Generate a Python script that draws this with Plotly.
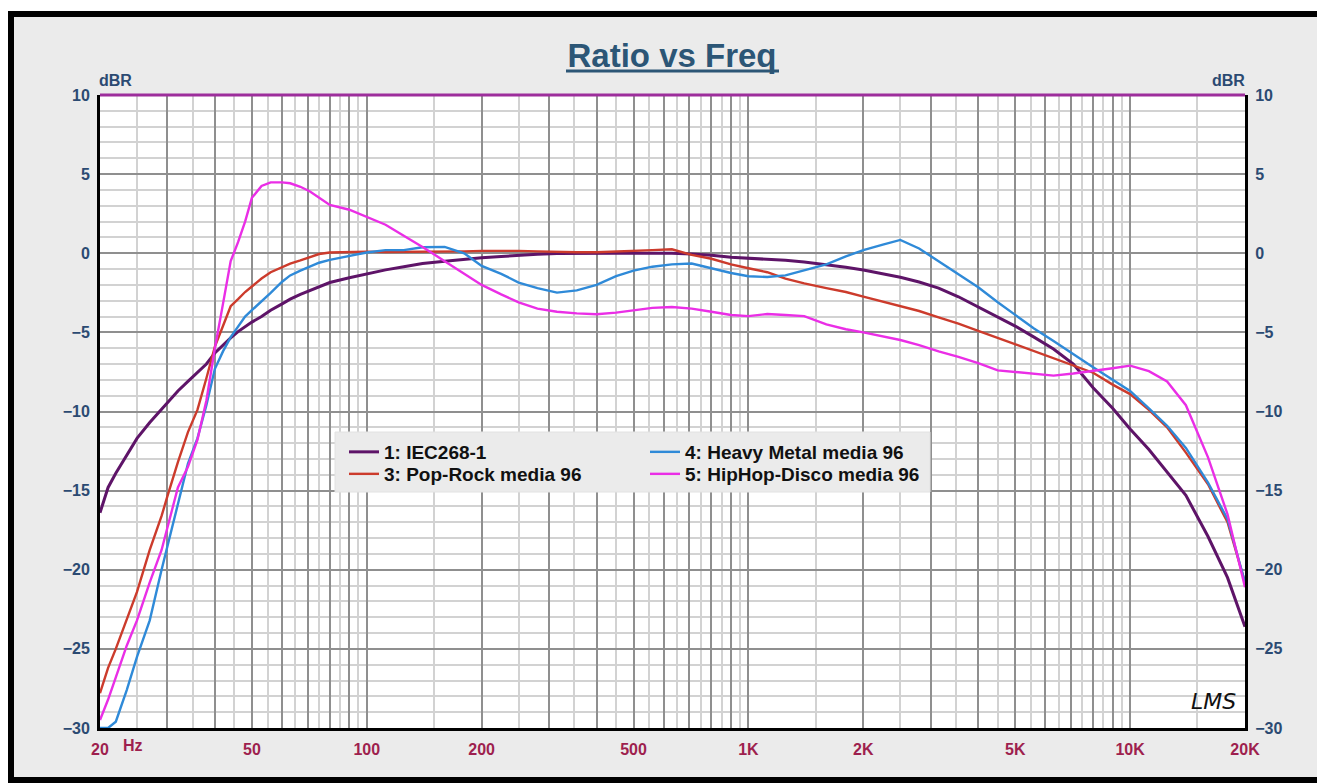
import math
import plotly.graph_objects as go

# ---------------- data ----------------
freq = [20, 21, 22, 23.5, 25, 27, 29, 30, 32, 34, 36, 38, 40, 42, 44, 46, 48, 50, 53, 56,
        60, 63, 67, 71, 75, 80, 90, 100, 112, 125, 140, 160, 180, 200, 225, 250, 280, 315,
        355, 400, 450, 500, 560, 630, 710, 800, 900, 1000, 1120, 1250, 1400, 1600, 1800,
        2000, 2250, 2500, 2800, 3150, 3550, 4000, 4500, 5000, 5600, 6300, 7100, 8000, 9000,
        10000, 11200, 12500, 14000, 16000, 18000, 20000]

iec268 = [-16.4, -14.8, -13.9, -12.8, -11.7, -10.7, -9.85, -9.4, -8.7, -8.1, -7.55, -7.0,
          -6.3, -5.8, -5.35, -4.95, -4.65, -4.35, -4.0, -3.6, -3.2, -2.9, -2.6, -2.35, -2.1,
          -1.85, -1.55, -1.3, -1.05, -0.85, -0.65, -0.5, -0.38, -0.28, -0.2, -0.12, -0.06,
          -0.02, 0.0, 0.0, 0.0, 0.0, 0.0, 0.0, -0.05, -0.12, -0.25, -0.3, -0.38, -0.45,
          -0.55, -0.7, -0.88, -1.06, -1.3, -1.52, -1.82, -2.2, -2.75, -3.38, -4.0, -4.6,
          -5.3, -6.05, -7.0, -8.5, -9.8, -11.1, -12.4, -13.8, -15.3, -17.9, -20.5, -23.6]

pop_rock = [-27.8, -26.2, -25.0, -23.2, -21.4, -18.75, -16.6, -15.4, -13.2, -11.3, -9.9,
            -7.9, -5.9, -4.6, -3.35, -2.9, -2.45, -2.1, -1.6, -1.2, -0.9, -0.65, -0.45,
            -0.25, -0.05, 0.05, 0.1, 0.1, 0.08, 0.08, 0.1, 0.1, 0.12, 0.15, 0.16, 0.15, 0.12,
            0.08, 0.06, 0.06, 0.1, 0.12, 0.2, 0.25, -0.1, -0.35, -0.7, -0.95, -1.2, -1.6,
            -1.9, -2.2, -2.45, -2.74, -3.05, -3.35, -3.65, -4.05, -4.45, -4.9, -5.35, -5.75,
            -6.2, -6.6, -7.06, -7.55, -8.3, -8.9, -9.9, -11.0, -12.6, -14.6, -17.0, -20.8]

heavy_metal = [-30.0, -30.0, -29.6, -27.6, -25.5, -23.2, -20.0, -18.6, -15.8, -13.3, -11.7,
               -9.6, -7.3, -6.2, -5.3, -4.64, -4.0, -3.6, -3.06, -2.5, -1.8, -1.4, -1.1,
               -0.85, -0.6, -0.42, -0.15, 0.05, 0.2, 0.2, 0.38, 0.4, 0.0, -0.8, -1.3, -1.85,
               -2.2, -2.49, -2.35, -2.0, -1.44, -1.1, -0.85, -0.7, -0.65, -0.95, -1.25,
               -1.45, -1.5, -1.4, -1.1, -0.7, -0.2, 0.2, 0.55, 0.84, 0.3, -0.5, -1.3, -2.15,
               -3.1, -3.9, -4.75, -5.55, -6.4, -7.2, -8.0, -8.7, -9.8, -10.9, -12.3, -14.5,
               -16.8, -20.8]

hiphop_disco = [-29.5, -28.2, -26.8, -24.8, -23.2, -20.8, -18.75, -17.4, -14.8, -13.5, -11.8,
                -9.3, -6.0, -3.2, -0.5, 0.7, 2.0, 3.5, 4.25, 4.48, 4.48, 4.42, 4.2, 3.9, 3.5,
                3.05, 2.75, 2.3, 1.8, 1.1, 0.4, -0.5, -1.3, -2.0, -2.6, -3.1, -3.5, -3.7,
                -3.8, -3.85, -3.75, -3.6, -3.45, -3.4, -3.5, -3.7, -3.9, -3.97, -3.84, -3.9,
                -3.97, -4.5, -4.8, -5.0, -5.25, -5.48, -5.8, -6.2, -6.55, -6.95, -7.4, -7.5,
                -7.65, -7.73, -7.6, -7.45, -7.27, -7.1, -7.45, -8.1, -9.6, -12.9, -16.5, -21.1]

series_names = ["1: IEC268-1", "3: Pop-Rock media 96", "4: Heavy Metal media 96",
                "5: HipHop-Disco media 96"]
series_values = [iec268, pop_rock, heavy_metal, hiphop_disco]
series_colors = ["#5e1468", "#cc3b2c", "#2f8ad8", "#ea2ee6"]
series_widths = [3.0, 2.4, 2.4, 2.4]
series_legend = ["legend", "legend2", "legend", "legend2"]   # legend row of each series

x_major = [20, 30, 40, 50, 60, 70, 80, 90, 100, 200, 300, 400, 500, 600, 700, 800, 900,
           1000, 2000, 3000, 4000, 5000, 6000, 7000, 8000, 9000, 10000, 20000]
x_labels = {20: "20", 50: "50", 100: "100", 200: "200", 500: "500", 1000: "1K",
            2000: "2K", 5000: "5K", 10000: "10K", 20000: "20K"}
x_minor = [25, 35, 45, 55, 65, 75, 85, 95, 150, 250, 350, 450, 550, 650, 750, 850, 950,
           1500, 2500, 3500, 4500, 5500, 6500, 7500, 8500, 9500, 15000]
y_ticks = [-30, -25, -20, -15, -10, -5, 0, 5, 10]

# ---------------- layout geometry ----------------
# the page body has an 8px margin, so the figure starts at page (8, 8)
OFF = 8
W, H = 1325 - OFF, 783 - OFF
ML, MR, MT, MB = 100 - OFF, 80, 95 - OFF, 55
PW, PH = W - ML - MR, H - MT - MB


def px(x):  # page x -> paper
    return (x - OFF - ML) / PW


def py(y):  # page y -> paper
    return (H - MB - (y - OFF)) / PH


FONT = "Arial, 'Liberation Sans', sans-serif"
BLUE_TXT = "#2b4a72"
RED_TXT = "#9e1f4e"

fig = go.Figure()
for name, vals, col, w, lg in zip(series_names, series_values, series_colors,
                                  series_widths, series_legend):
    fig.add_trace(go.Scatter(x=freq, y=vals, mode="lines", name=name,
                             line=dict(color=col, width=w), legend=lg,
                             hoverinfo="skip"))

tickfont_y = dict(size=16, color=BLUE_TXT, family=FONT, weight="bold")
tickfont_x = dict(size=16, color=RED_TXT, family=FONT, weight="bold")
legend_font = dict(size=19, color="#111111", family=FONT, weight="bold")

fig.update_layout(
    width=W, height=H,
    margin=dict(l=ML, r=MR, t=MT, b=MB, pad=0),
    paper_bgcolor="white",
    plot_bgcolor="white",
    font=dict(family=FONT),
    title=dict(text="<b>Ratio vs Freq</b>", x=px(672), xanchor="center", xref="paper",
               y=1 - (55 - OFF) / H, yanchor="middle", yref="container",
               font=dict(size=33, color="#2c5676", family=FONT)),
    showlegend=True,
    legend=dict(orientation="h", x=px(344), y=py(452), xanchor="left", yanchor="middle",
                bgcolor="rgba(0,0,0,0)", borderwidth=0, entrywidth=256,
                font=legend_font, traceorder="normal"),
    legend2=dict(orientation="h", x=px(344), y=py(474), xanchor="left", yanchor="middle",
                 bgcolor="rgba(0,0,0,0)", borderwidth=0, entrywidth=256,
                 font=legend_font, traceorder="normal"),
    xaxis=dict(type="log", range=[math.log10(20), math.log10(20000)],
               tickmode="array", tickvals=x_major,
               ticktext=[x_labels.get(v, "") for v in x_major],
               showgrid=True, gridcolor="#8f8f8f", gridwidth=1.5,
               minor=dict(tickvals=x_minor, showgrid=True, gridcolor="#d2d2d2",
                          gridwidth=1.5),
               showline=True, linecolor="black", linewidth=3, mirror=False,
               ticks="", ticklabelstandoff=5, tickfont=tickfont_x, zeroline=False),
    yaxis=dict(range=[-30, 10], tickmode="array", tickvals=y_ticks,
               showgrid=True, gridcolor="#8f8f8f", gridwidth=1.5,
               minor=dict(dtick=1, showgrid=True, gridcolor="#d2d2d2", gridwidth=1.5),
               showline=True, linecolor="black", linewidth=3,
               ticks="", ticklabelstandoff=4, tickfont=tickfont_y, zeroline=False),
    yaxis2=dict(range=[-30, 10], overlaying="y", side="right", anchor="x",
                tickmode="array", tickvals=y_ticks, showgrid=False,
                showline=True, linecolor="black", linewidth=3, ticks="",
                ticklabelstandoff=4, tickfont=tickfont_y, zeroline=False),
)
# invisible trace so the right axis is drawn
fig.add_trace(go.Scatter(x=[freq[0]], y=[iec268[0]], yaxis="y2", mode="lines",
                         line=dict(width=0), showlegend=False, hoverinfo="skip"))

shapes = [
    # outer gray frame with thick black border
    dict(type="rect", xref="paper", yref="paper", x0=px(11), x1=px(1321), y0=py(780),
         y1=py(14), fillcolor="#ebebeb", line=dict(color="black", width=6), layer="below"),
    # white plot area
    dict(type="rect", xref="paper", yref="paper", x0=0, x1=1, y0=0, y1=1,
         fillcolor="white", line=dict(width=0), layer="below"),
    # top border (magenta)
    dict(type="line", xref="paper", yref="paper", x0=0, x1=1, y0=1, y1=1,
         line=dict(color="#9d2e9c", width=3), layer="above"),
    # title underline
    dict(type="line", xref="paper", yref="paper", x0=px(566), x1=px(779), y0=py(71),
         y1=py(71), line=dict(color="#2c5676", width=3)),
    # legend background box
    dict(type="rect", xref="paper", yref="paper", x0=px(335), x1=px(930), y0=py(492),
         y1=py(432), fillcolor="#ebebeb", line=dict(color="#e2e2e2", width=1),
         layer="above"),
]
fig.update_layout(shapes=shapes)

annotations = [
    dict(text="<b>dBR</b>", xref="paper", yref="paper", x=px(115), y=py(80),
         xanchor="center", yanchor="middle", showarrow=False,
         font=dict(size=16, color=BLUE_TXT, family=FONT)),
    dict(text="<b>dBR</b>", xref="paper", yref="paper", x=px(1228), y=py(80),
         xanchor="center", yanchor="middle", showarrow=False,
         font=dict(size=16, color=BLUE_TXT, family=FONT)),
    dict(text="<b>Hz</b>", xref="paper", yref="paper", x=px(121), y=py(745),
         xanchor="left", yanchor="middle", showarrow=False,
         font=dict(size=16, color=RED_TXT, family=FONT)),
    dict(text="<i>LMS</i>", xref="paper", yref="paper", x=px(1213), y=py(701),
         xanchor="center", yanchor="middle", showarrow=False,
         font=dict(size=22, color="#111111", family="DejaVu Sans")),
]
fig.update_layout(annotations=annotations)

fig.write_html("out.html")
